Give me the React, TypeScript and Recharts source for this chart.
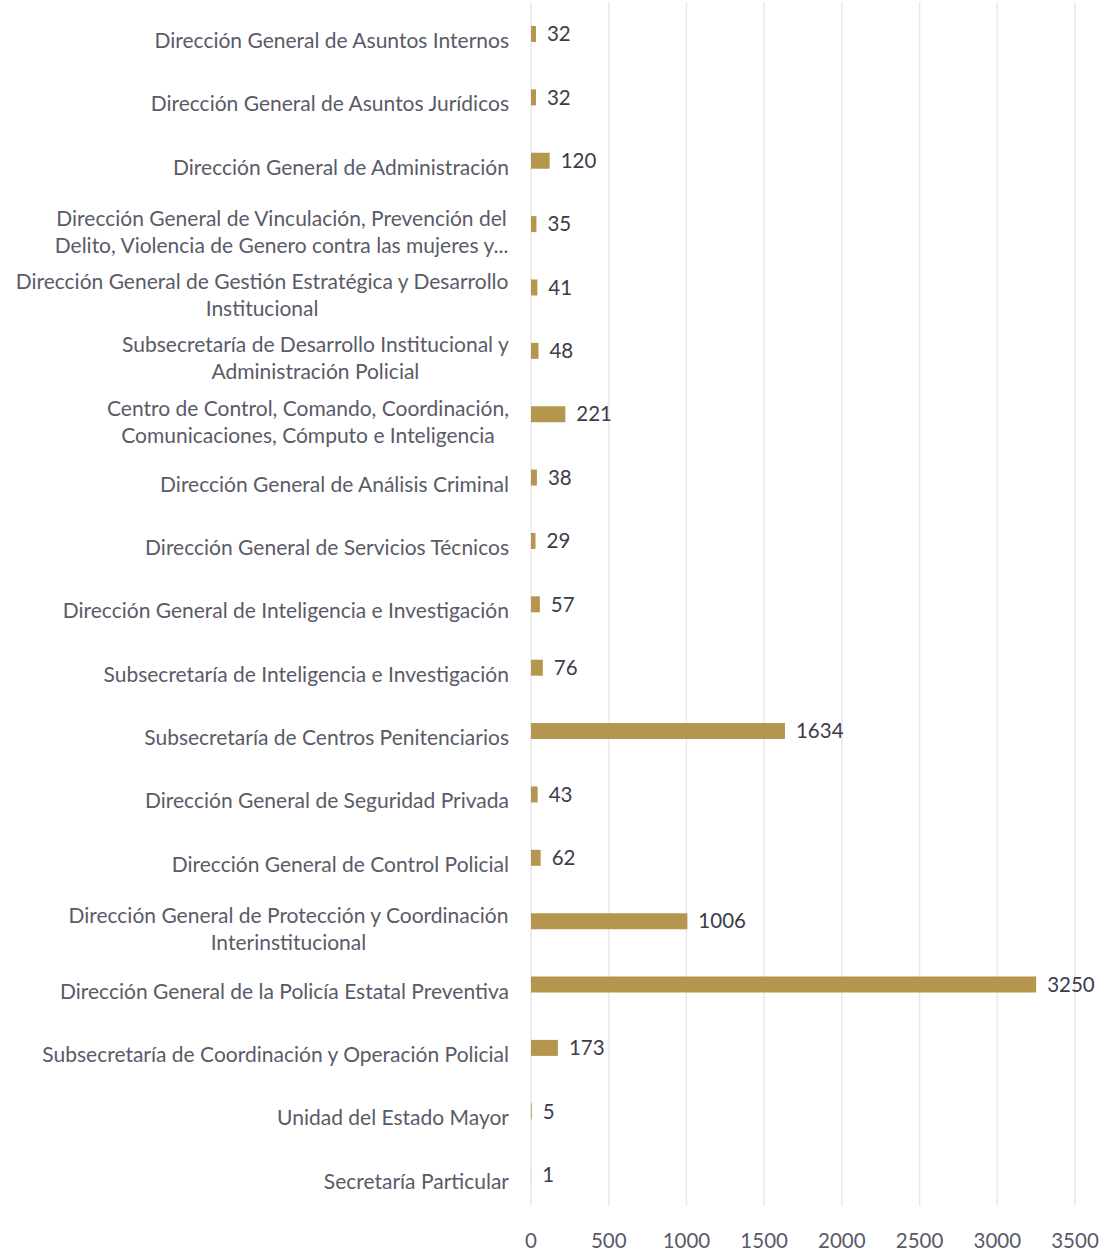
import { BarChart, Bar, XAxis, YAxis, CartesianGrid, LabelList } from "recharts";

const categories = [
  "Dirección General de Asuntos Internos",
  "Dirección General de Asuntos Jurídicos",
  "Dirección General de Administración",
  "Dirección General de Vinculación, Prevención del\nDelito, Violencia de Genero contra las mujeres y...",
  "Dirección General de Gestión Estratégica y Desarrollo\nInstitucional",
  "Subsecretaría de Desarrollo Institucional y\nAdministración Policial",
  "Centro de Control, Comando, Coordinación,\nComunicaciones, Cómputo e Inteligencia",
  "Dirección General de Análisis Criminal",
  "Dirección General de Servicios Técnicos",
  "Dirección General de Inteligencia e Investigación",
  "Subsecretaría de Inteligencia e Investigación",
  "Subsecretaría de Centros Penitenciarios",
  "Dirección General de Seguridad Privada",
  "Dirección General de Control Policial",
  "Dirección General de Protección y Coordinación\nInterinstitucional",
  "Dirección General de la Policía Estatal Preventiva",
  "Subsecretaría de Coordinación y Operación Policial",
  "Unidad del Estado Mayor",
  "Secretaría Particular",
];

const values = [32, 32, 120, 35, 41, 48, 221, 38, 29, 57, 76, 1634, 43, 62, 1006, 3250, 173, 5, 1];

const xTicks = [0, 500, 1000, 1500, 2000, 2500, 3000, 3500];

const data = categories.map((name, i) => ({ name, value: values[i] }));

const FONT = "Lato, 'Open Sans', sans-serif";
const LABEL_SIZE = 21;

let measureCtx: CanvasRenderingContext2D | null = null;
function textWidth(s: string) {
  if (!measureCtx) {
    measureCtx = document.createElement("canvas").getContext("2d");
  }
  if (!measureCtx) return s.length * LABEL_SIZE * 0.5;
  measureCtx.font = `${LABEL_SIZE}px Lato, sans-serif`;
  return measureCtx.measureText(s).width;
}

// multi-line labels: block right-aligned to the axis, lines centred inside it
function CategoryTick(props: any) {
  const { x, y, payload } = props;
  const lines: string[] = String(payload.value).split("\n");
  const multi = lines.length > 1;
  const first = multi ? -5.5 : 7;
  const maxW = Math.max(...lines.map(textWidth));
  const cx = multi ? x - maxW / 2 : x;
  return (
    <text
      x={cx}
      y={y}
      textAnchor={multi ? "middle" : "end"}
      fill="#5a5a68"
      fontSize={LABEL_SIZE}
      fontFamily={FONT}
    >
      {lines.map((line, i) => (
        <tspan key={i} x={cx} y={y + first + i * 27} dy="0.35em">
          {line}
        </tspan>
      ))}
    </text>
  );
}

export default function App() {
  return (
    <div style={{ position: "absolute", left: 0, top: 0, background: "#fff" }}>
      <BarChart
        width={1104}
        height={1251}
        data={data}
        layout="vertical"
        margin={{ top: 2, right: 29, bottom: 0, left: 0 }}
        barCategoryGap={0}
      >
        <CartesianGrid horizontal={false} stroke="#e9e9ec" strokeWidth={1.5} />
        <XAxis
          type="number"
          domain={[0, 3500]}
          ticks={xTicks}
          axisLine={false}
          tickLine={false}
          tickSize={0}
          tickMargin={27}
          height={45}
          interval={0}
          tick={{ fontSize: 20.5, fill: "#5a5a68", fontFamily: FONT }}
        />
        <YAxis
          type="category"
          dataKey="name"
          width={531}
          axisLine={false}
          tickLine={false}
          tickSize={0}
          tickMargin={22}
          interval={0}
          tick={<CategoryTick />}
        />
        <Bar dataKey="value" fill="#b5964f" barSize={16} isAnimationActive={false}>
          <LabelList
            dataKey="value"
            position="right"
            offset={11}
            fill="#3c3c4a"
            fontSize={20.5}
            fontFamily={FONT}
          />
        </Bar>
      </BarChart>
    </div>
  );
}
